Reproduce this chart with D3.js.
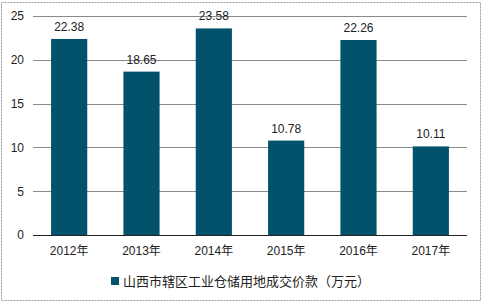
<!DOCTYPE html>
<html>
<head>
<meta charset="UTF-8">
<title>山西市辖区工业仓储用地成交价款</title>
<style>
    body { margin: 0; background: #fff; }
    text { font-family: "Liberation Sans", Arial, "Noto Sans CJK SC", sans-serif; fill: #222; }
</style>
</head>
<body>
<script src="https://cdn.jsdelivr.net/npm/d3@7"></script>
<script>
    var years = ["2012年", "2013年", "2014年", "2015年", "2016年", "2017年"];
    var values = [22.38, 18.65, 23.58, 10.78, 22.26, 10.11];
    var yTicks = [0, 5, 10, 15, 20, 25];
    var seriesName = "山西市辖区工业仓储用地成交价款（万元）";

    var W = 483, H = 305;
    var margin = {top: 16, right: 16, bottom: 70, left: 33};
    var width = W - margin.left - margin.right,
        height = H - margin.top - margin.bottom;

    var svg = d3.select("body").append("svg")
        .attr("width", W)
        .attr("height", H);

    // outer frame
    svg.append("rect")
        .attr("x", 1.5).attr("y", 2.5)
        .attr("width", 479).attr("height", 298)
        .attr("fill", "none")
        .attr("stroke", "#999")
        .attr("stroke-dasharray", "2,1");

    var g = svg.append("g")
        .attr("transform", "translate(" + margin.left + "," + margin.top + ")");

    var x = d3.scaleBand()
        .domain(years)
        .range([0, width])
        .paddingInner(0.5)
        .paddingOuter(0.25);

    var y = d3.scaleLinear()
        .domain([0, 25])
        .range([height, 0]);

    // grid lines
    g.append("g")
        .selectAll("line")
        .data(yTicks.filter(function (d) { return d > 0; }))
        .enter().append("line")
        .attr("x1", 0).attr("x2", width)
        .attr("y1", function (d) { return Math.round(y(d)) + 0.5; })
        .attr("y2", function (d) { return Math.round(y(d)) + 0.5; })
        .attr("stroke", "#8a8a8a")
        .attr("stroke-width", 1);

    // y axis labels
    var yAxis = g.append("g")
        .call(d3.axisLeft(y).tickValues(yTicks).tickSize(0).tickPadding(9));
    yAxis.select(".domain").remove();
    yAxis.selectAll("text").attr("font-size", 12).style("fill", "#222");

    // bars
    g.selectAll(".bar")
        .data(values)
        .enter().append("rect")
        .attr("class", "bar")
        .attr("x", function (d, i) { return x(years[i]); })
        .attr("y", function (d) { return y(d); })
        .attr("width", x.bandwidth())
        .attr("height", function (d) { return height - y(d); })
        .attr("fill", "#02526c");

    // value labels
    g.selectAll(".val")
        .data(values)
        .enter().append("text")
        .attr("class", "val")
        .attr("x", function (d, i) { return x(years[i]) + x.bandwidth() / 2; })
        .attr("y", function (d) { return y(d) - 8; })
        .attr("text-anchor", "middle")
        .attr("font-size", 12)
        .text(function (d) { return d.toFixed(2); });

    // x axis
    var xAxis = g.append("g")
        .attr("transform", "translate(0," + height + ")")
        .call(d3.axisBottom(x).tickSize(0).tickPadding(11));
    xAxis.select(".domain").attr("stroke", "#222").attr("d", "M0,0.5H" + width);
    xAxis.selectAll("text").attr("font-size", 12).style("fill", "#222");

    // legend
    var legend = svg.append("g")
        .attr("transform", "translate(111,281)");
    legend.append("rect")
        .attr("x", 0).attr("y", -4)
        .attr("width", 8).attr("height", 8)
        .attr("fill", "#02526c");
    legend.append("text")
        .attr("x", 12).attr("y", 0)
        .attr("dy", "0.35em")
        .attr("font-size", 13)
        .text(seriesName);
</script>
</body>
</html>
